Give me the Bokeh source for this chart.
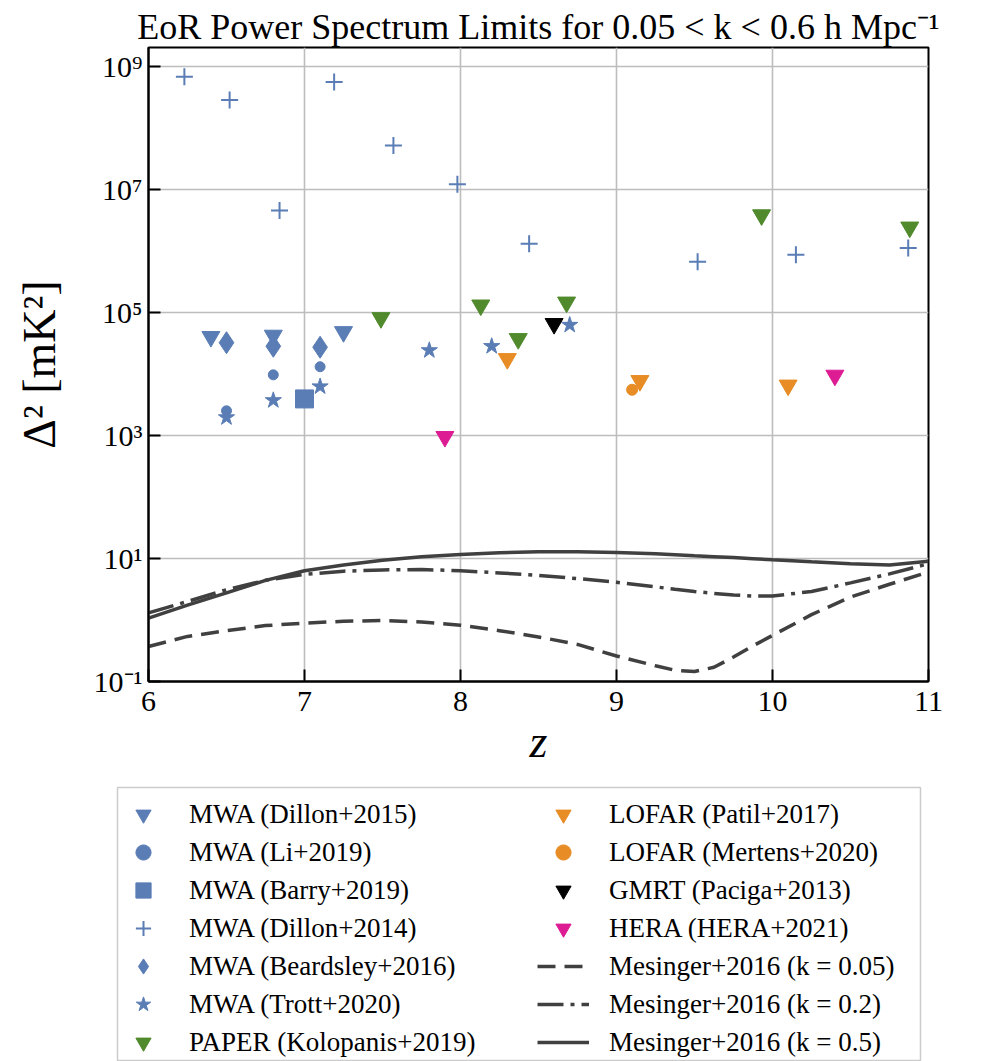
from bokeh.plotting import figure
from bokeh.layouts import column
from bokeh.models import (Range1d, FixedTicker, CustomJSTickFormatter, Legend, LegendItem)
from bokeh.embed import file_html
from bokeh.resources import INLINE

# ---- upper limits on the 21cm power spectrum, Delta^2 [mK^2] vs redshift ----
dillon15_z = [6.4, 6.8, 7.25]
dillon15_d2 = [4.0e4, 4.2e4, 4.8e4]

li19_z = [6.5, 6.8, 7.1]
li19_d2 = [2.5e3, 9.6e3, 1.3e4]

barry19_z = [7.0]
barry19_d2 = [3.9e3]

dillon14_z = [6.23, 6.52, 6.84, 7.19, 7.57, 7.98, 8.44, 9.52, 10.15, 10.87]
dillon14_d2 = [6.7e8, 2.8e8, 4.5e6, 5.5e8, 5.1e7, 1.2e7, 1.3e6, 6.6e5, 8.6e5, 1.1e6]

beardsley16_z = [6.5, 6.8, 7.1]
beardsley16_d2 = [3.2e4, 2.8e4, 2.7e4]

trott20_z = [6.5, 6.8, 7.1, 7.8, 8.2, 8.7]
trott20_d2 = [1.95e3, 3.7e3, 6.2e3, 2.4e4, 2.8e4, 6.2e4]

kolopanis19_z = [7.49, 8.13, 8.37, 8.68, 9.93, 10.88]
kolopanis19_d2 = [8.1e4, 1.3e5, 3.7e4, 1.45e5, 3.8e6, 2.4e6]

patil17_z = [8.3, 9.15, 10.1]
patil17_d2 = [1.75e4, 7.7e3, 6.5e3]

mertens20_z = [9.1]
mertens20_d2 = [5.5e3]

paciga13_z = [8.6]
paciga13_d2 = [6.5e4]

hera21_z = [7.9, 10.4]
hera21_d2 = [9.5e2, 9.4e3]

# ---- Mesinger+2016 model predictions ----
model_z = [6.0, 6.25, 6.5, 6.75, 7.0, 7.25, 7.5, 7.75, 8.0, 8.25, 8.5,
           8.75, 9.0, 9.25, 9.375, 9.5, 9.625, 9.75, 9.875, 10.0, 10.25,
           10.5, 10.75, 11.0]
mes_k005 = [0.37, 0.54, 0.67, 0.81, 0.89, 0.95, 0.98, 0.93, 0.82, 0.67, 0.53,
            0.40, 0.26, 0.18, 0.152, 0.145, 0.17, 0.25, 0.38, 0.56, 1.22,
            2.35, 3.8, 6.0]
mes_k02 = [1.3, 2.0, 3.1, 4.4, 5.5, 6.2, 6.5, 6.6, 6.3, 5.8, 5.3,
           4.7, 4.1, 3.45, 3.15, 2.9, 2.7, 2.55, 2.45, 2.45, 2.9,
           4.0, 5.6, 8.2]
mes_k05 = [1.07, 1.74, 2.75, 4.4, 6.3, 7.8, 9.3, 10.6, 11.6, 12.4, 12.8,
           12.8, 12.5, 11.9, 11.45, 11.0, 10.65, 10.3, 9.9, 9.5, 8.8,
           8.2, 7.8, 9.0]

BLUE = "#5a7db5"
GREEN = "#508a2d"
ORANGE = "#e88c25"
MAGENTA = "#dd1c94"
MODEL = "#404040"
SERIF = "Liberation Serif"

# series definitions shared by the plot and the legend panel
points = [
    ("MWA (Dillon+2015)", dillon15_z, dillon15_d2, dict(marker="inverted_triangle", size=18, color=BLUE)),
    ("MWA (Li+2019)", li19_z, li19_d2, dict(marker="circle", size=10, color=BLUE)),
    ("MWA (Barry+2019)", barry19_z, barry19_d2, dict(marker="square", size=18, color=BLUE)),
    ("MWA (Dillon+2014)", dillon14_z, dillon14_d2, dict(marker="cross", size=17, line_width=2, color=BLUE)),
    ("MWA (Beardsley+2016)", beardsley16_z, beardsley16_d2, dict(marker="diamond", size=22, color=BLUE)),
    ("MWA (Trott+2020)", trott20_z, trott20_d2, dict(marker="star", size=17, color=BLUE)),
    ("PAPER (Kolopanis+2019)", kolopanis19_z, kolopanis19_d2, dict(marker="inverted_triangle", size=18, color=GREEN)),
    ("LOFAR (Patil+2017)", patil17_z, patil17_d2, dict(marker="inverted_triangle", size=18, color=ORANGE)),
    ("LOFAR (Mertens+2020)", mertens20_z, mertens20_d2, dict(marker="circle", size=11, color=ORANGE)),
    ("GMRT (Paciga+2013)", paciga13_z, paciga13_d2, dict(marker="inverted_triangle", size=18, color="black")),
    ("HERA (HERA+2021)", hera21_z, hera21_d2, dict(marker="inverted_triangle", size=18, color=MAGENTA)),
]
models = [
    ("Mesinger+2016 (k = 0.05)", mes_k005, "18 9"),
    ("Mesinger+2016 (k = 0.2)", mes_k02, "26 7 4 7"),
    ("Mesinger+2016 (k = 0.5)", mes_k05, "solid"),
]

# ---------------- main panel ----------------
p = figure(width=990, height=781, y_axis_type="log",
           x_range=Range1d(6, 11), y_range=Range1d(1e-1, 2e9),
           output_backend="svg", toolbar_location=None,
           min_border_left=148, min_border_right=62,
           min_border_top=47, min_border_bottom=100)
p.frame_align = False

p.title.text = "EoR Power Spectrum Limits for 0.05 < k < 0.6 h Mpc\u207b\u00b9"
p.title.align = "center"
p.title.text_font = SERIF
p.title.text_font_size = "36px"
p.title.text_font_style = "normal"
p.title.text_color = "black"
p.title.standoff = 2

p.outline_line_color = "black"
p.outline_line_width = 2
p.background_fill_color = "white"
p.border_fill_color = "white"

p.xaxis.ticker = FixedTicker(ticks=[6, 7, 8, 9, 10, 11])
p.yaxis.ticker = FixedTicker(ticks=[1e-1, 1e1, 1e3, 1e5, 1e7, 1e9])
p.yaxis.formatter = CustomJSTickFormatter(code="""
const sup = {'-': '\u207b', '0': '\u2070', '1': '\u00b9', '2': '\u00b2', '3': '\u00b3',
             '4': '\u2074', '5': '\u2075', '6': '\u2076', '7': '\u2077', '8': '\u2078', '9': '\u2079'};
const e = Math.round(Math.log10(tick)).toString();
return '10' + e.split('').map(c => sup[c]).join('');
""")

for ax in (p.xaxis, p.yaxis):
    ax.major_tick_in = 12
    ax.major_tick_out = 0
    ax.major_tick_line_width = 2
    ax.minor_tick_line_color = None
    ax.axis_line_width = 2
    ax.major_label_text_font = SERIF
    ax.major_label_text_font_size = "30px"
    ax.major_label_text_color = "black"
    ax.axis_label_text_font = SERIF
    ax.axis_label_text_color = "black"

p.xaxis.major_label_standoff = 10
p.yaxis.major_label_standoff = 6
p.xaxis.axis_label = "z"
p.xaxis.axis_label_text_font_size = "46px"
p.xaxis.axis_label_text_font_style = "italic"
p.xaxis.axis_label_standoff = 2
p.yaxis.axis_label = "\u0394\u00b2 [mK\u00b2]"
p.yaxis.axis_label_text_font_size = "46px"
p.yaxis.axis_label_text_font_style = "normal"
p.yaxis.axis_label_standoff = 26

p.grid.grid_line_color = "#bdbdbd"
p.grid.grid_line_width = 1.6

for label, ys, dash in models:
    p.line(model_z, ys, line_color=MODEL, line_width=3.5, line_dash=dash)
for label, xs, ys, style in points:
    p.scatter(xs, ys, **style)

# ---------------- legend panel ----------------
# same series drawn outside the visible range, so only their legend entries show
leg = figure(width=990, height=280, x_range=Range1d(0, 1), y_range=Range1d(0, 1),
             x_axis_type=None, y_axis_type=None,
             output_backend="svg", toolbar_location=None,
             min_border_left=117, min_border_right=70,
             min_border_top=6, min_border_bottom=0)
leg.frame_align = False
leg.grid.visible = False
leg.outline_line_color = "#cccccc"
leg.outline_line_width = 1.5
leg.background_fill_color = "white"
leg.border_fill_color = "white"

items = []
for label, xs, ys, style in points:
    r = leg.scatter(xs, ys, **style)
    items.append(LegendItem(label=label, renderers=[r]))
for label, ys, dash in models:
    r = leg.line(model_z, ys, line_color=MODEL, line_width=3.5, line_dash=dash)
    items.append(LegendItem(label=label, renderers=[r]))

common = dict(glyph_width=52, glyph_height=38, label_height=38,
              label_standoff=20, spacing=0, padding=4, margin=0,
              label_text_font=SERIF, label_text_font_size="27px",
              label_text_color="black", border_line_color=None,
              background_fill_alpha=0.0)
left_legend = Legend(items=items[:7], location=(0, 0), **common)
right_legend = Legend(items=items[7:], location=(420, 0), **common)
leg.add_layout(left_legend)
leg.add_layout(right_legend)

open("out.html", "w").write(file_html(column(p, leg), INLINE))
